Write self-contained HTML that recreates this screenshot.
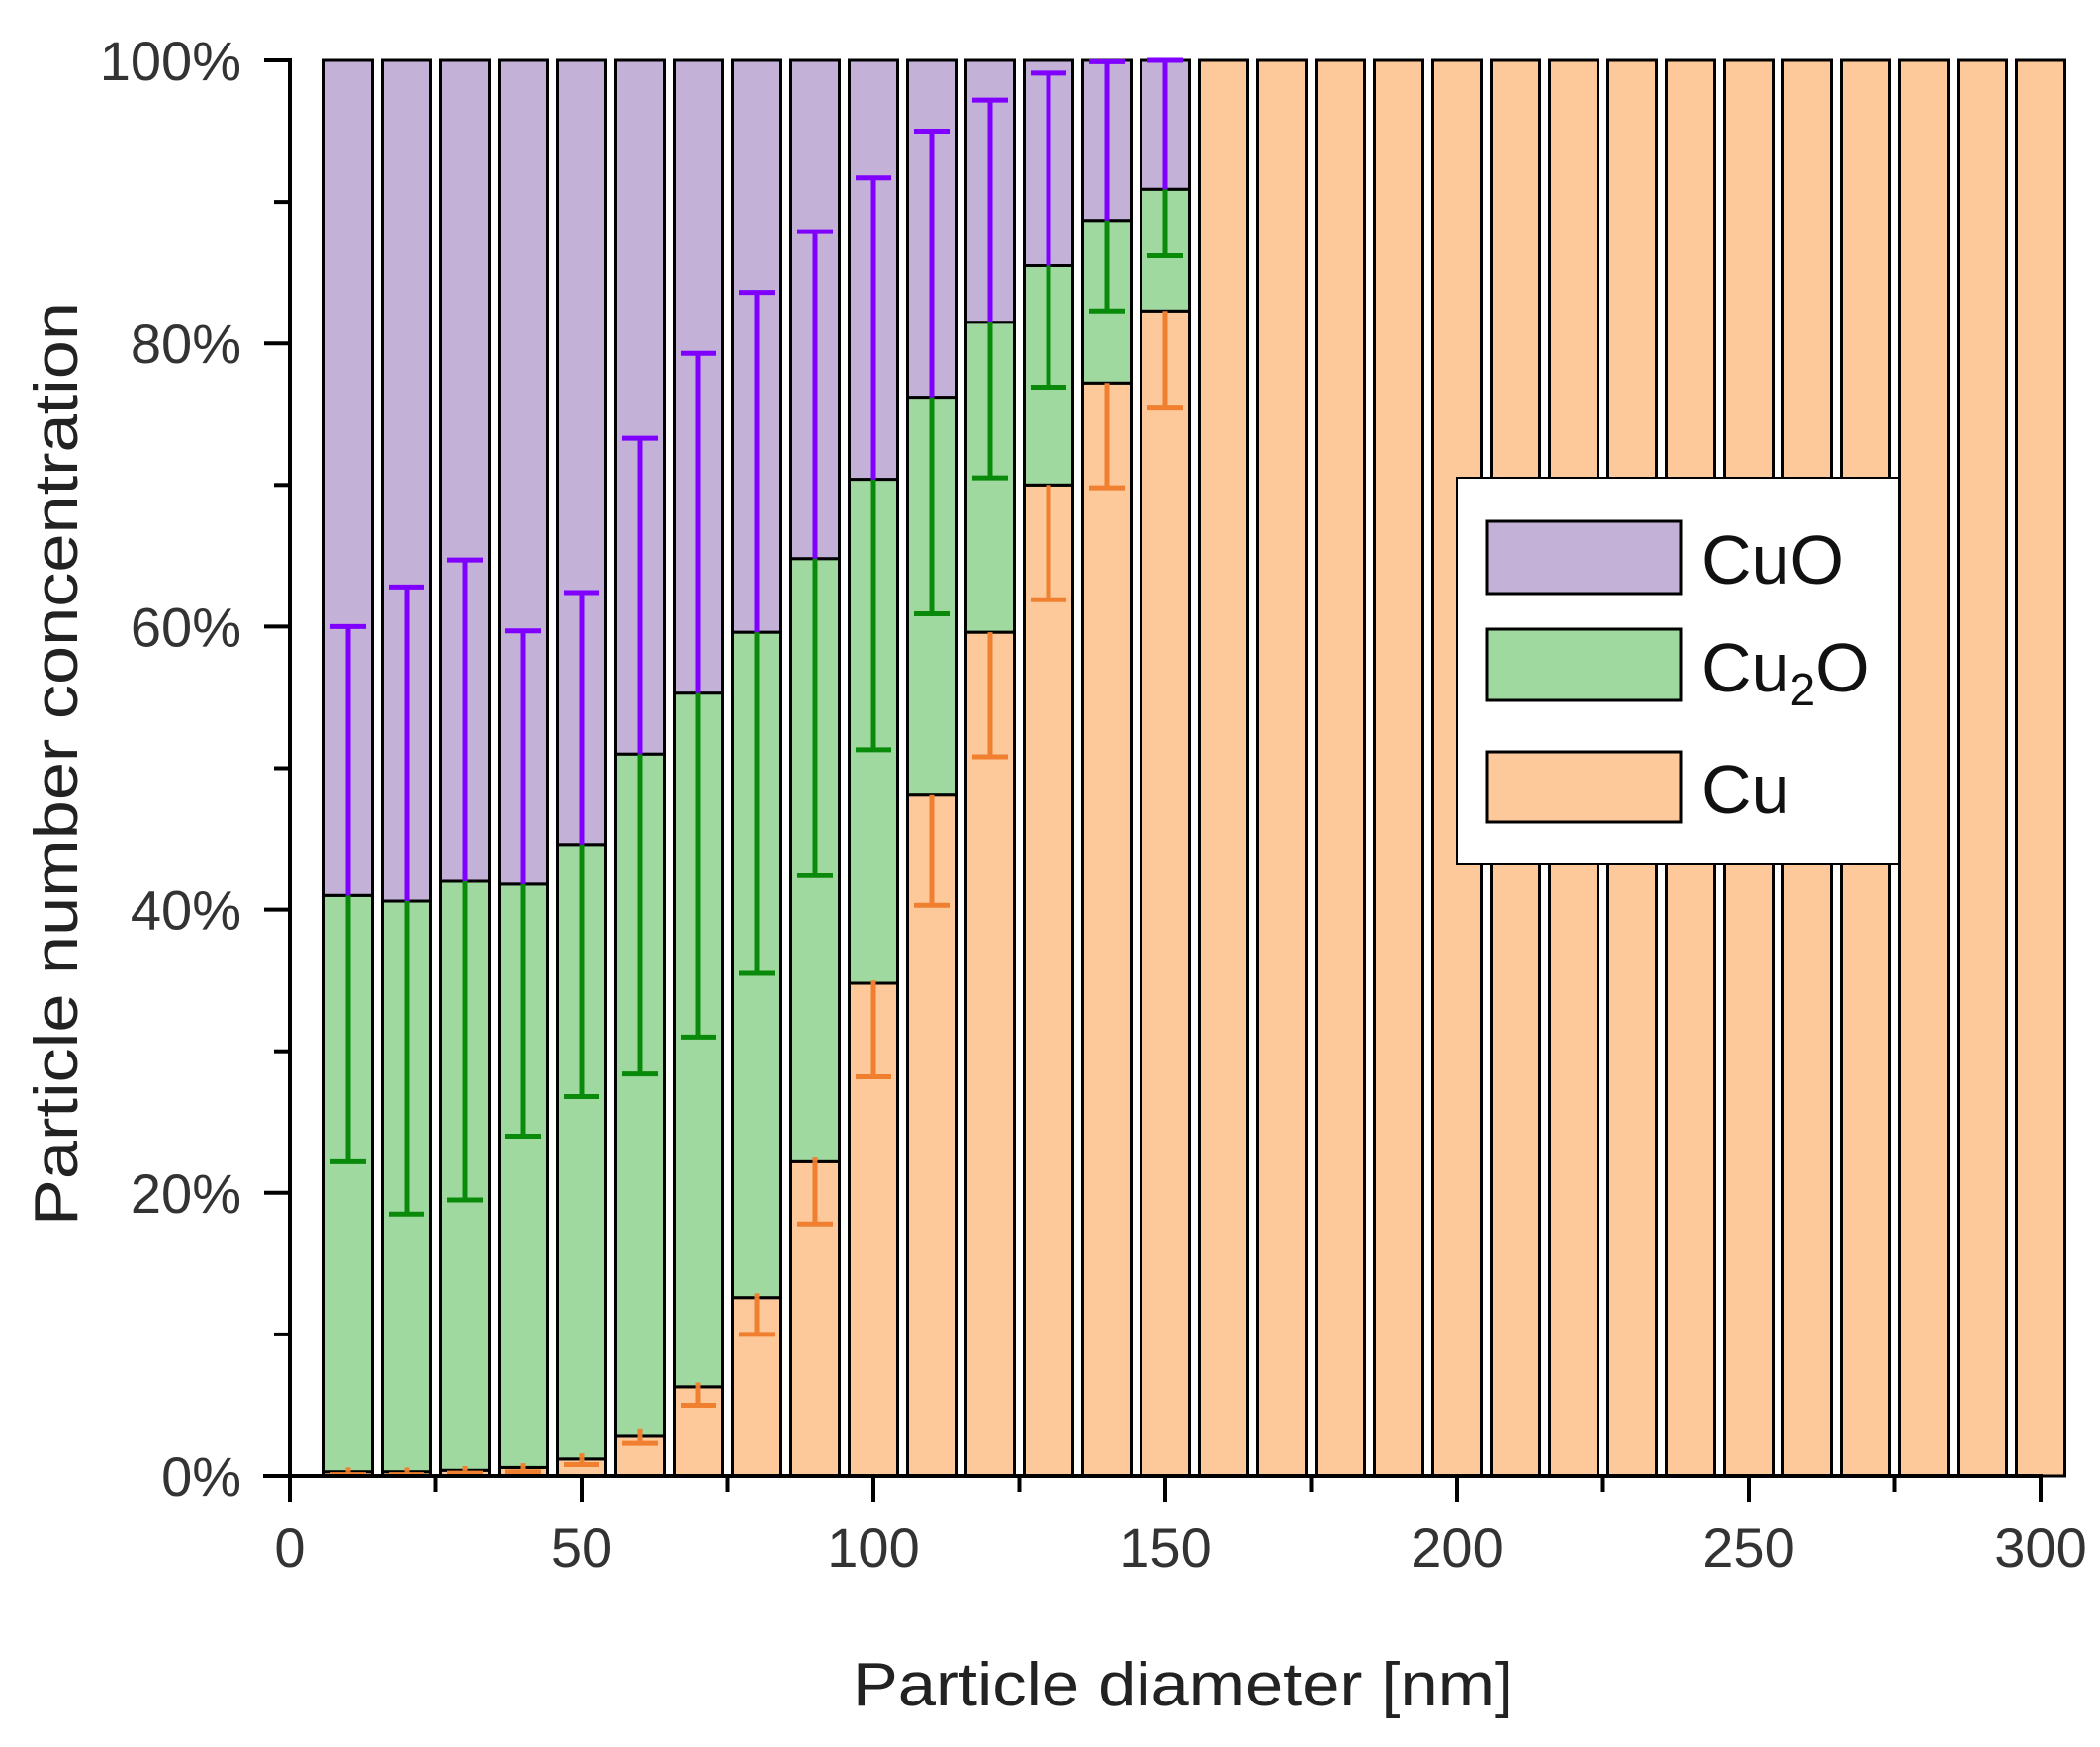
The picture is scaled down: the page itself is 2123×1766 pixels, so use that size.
<!DOCTYPE html>
<html><head><meta charset="utf-8"><style>
html,body{margin:0;padding:0;background:#fff}
svg{display:block;font-family:"Liberation Sans",sans-serif}
</style></head><body>
<svg id="chart" width="2123" height="1766" viewBox="0 0 2123 1766" xmlns="http://www.w3.org/2000/svg">
<g id="bars"></g>
<g id="errs"></g>
<g id="axes"></g>
<text x="0" y="0" transform="translate(78,772) rotate(-90)" text-anchor="middle" font-size="62" fill="#222" textLength="934" lengthAdjust="spacingAndGlyphs">Particle number concentration</text>
<text x="1196" y="1724" text-anchor="middle" font-size="62" fill="#222" textLength="668" lengthAdjust="spacingAndGlyphs">Particle diameter [nm]</text>
<g>
<rect x="1473" y="483" width="447" height="390" fill="#fff" stroke="#000" stroke-width="2"/>
<rect x="1503" y="527" width="196" height="73" fill="#c3b1d8" stroke="#000" stroke-width="3"/>
<text x="1720" y="590" font-size="70" fill="#111">CuO</text>
<rect x="1503" y="636" width="196" height="72" fill="#a0d9a0" stroke="#000" stroke-width="3"/>
<text x="1720" y="699" font-size="70" fill="#111">Cu<tspan font-size="46" dy="14">2</tspan><tspan dy="-14">O</tspan></text>
<rect x="1503" y="760" width="196" height="71" fill="#fdc99a" stroke="#000" stroke-width="3"/>
<text x="1720" y="822" font-size="70" fill="#111">Cu</text>
</g>
</svg>
<script>
const diameters=[10,20,30,40,50,60,70,80,90,100,110,120,130,140,150,160,170,180,190,200,210,220,230,240,250,260,270,280,290,300];
const cuTop=[0.3,0.3,0.4,0.6,1.2,2.8,6.3,12.6,22.2,34.8,48.1,59.6,70.0,77.2,82.3,100,100,100,100,100,100,100,100,100,100,100,100,100,100,100];
const cu2oTop=[41,40.6,42,41.8,44.6,51,55.3,59.6,64.8,70.4,76.2,81.5,85.5,88.7,90.9,100,100,100,100,100,100,100,100,100,100,100,100,100,100,100];
const cuErrLow=[0.1,0.1,0.2,0.3,0.8,2.3,5.0,10.0,17.8,28.2,40.3,50.8,61.9,69.8,75.5];
const cuErrHigh=[0.6,0.6,0.7,0.9,1.6,3.3,6.6,12.9,22.5,35.0,48.1,59.6,70.0,77.2,82.3];
const cu2oErrLow=[22.2,18.5,19.5,24,26.8,28.4,31,35.5,42.4,51.3,60.9,70.5,76.9,82.3,86.2];
const cuoErrHigh=[60,62.8,64.7,59.7,62.4,73.3,79.3,83.6,87.9,91.7,95,97.2,99.1,99.9,100];
const xTicks=[0,50,100,150,200,250,300];
const yTicks=[0,20,40,60,80,100];

const NS="http://www.w3.org/2000/svg";
const X0=293,PXNM=5.9,Y0=1492,PXPCT=14.31;
const xs=v=>X0+v*PXNM, ys=v=>Y0-v*PXPCT;
function mk(parent,tag,a){const e=document.createElementNS(NS,tag);for(const k in a)e.setAttribute(k,a[k]);parent.appendChild(e);return e;}
const gb=document.getElementById('bars'),ge=document.getElementById('errs'),ga=document.getElementById('axes');
const BW=49;
diameters.forEach((d,i)=>{
  const x=xs(d)-BW/2;
  const segs=[[0,cuTop[i],'#fdc99a','cu'],[cuTop[i],cu2oTop[i],'#a0d9a0','cu2o'],[cu2oTop[i],100,'#c3b1d8','cuo']];
  segs.forEach(s=>{
    if(s[1]-s[0]<=0.001)return;
    const r=mk(gb,'rect',{x:x,y:ys(s[1]),width:BW,height:ys(s[0])-ys(s[1]),fill:s[2],stroke:'#000','stroke-width':3});
    
    
  });
});
function err(i,from,to,color,name){
  const cx=xs(diameters[i]);
  const g=mk(ge,'g',{stroke:color,'stroke-width':5});
  
  
  mk(g,'line',{x1:cx,x2:cx,y1:ys(from),y2:ys(to)});
  mk(g,'line',{x1:cx-18,x2:cx+18,y1:ys(to),y2:ys(to)});
}
for(let i=0;i<cuErrLow.length;i++){
  err(i,cuTop[i],cuErrLow[i],'#f08030','cu');
  if(cuErrHigh[i]>cuTop[i]){const cx=xs(diameters[i]);const l=mk(ge,'line',{x1:cx,x2:cx,y1:ys(cuTop[i]),y2:ys(cuErrHigh[i]),stroke:'#f08030','stroke-width':5});}
  err(i,cu2oTop[i],cu2oErrLow[i],'#0a8a0a','cu2o');
  err(i,cu2oTop[i],cuoErrHigh[i],'#7f00ff','cuo');
}
// axes
const ya=mk(ga,'line',{x1:X0,x2:X0,y1:ys(100)-2,y2:Y0+2,stroke:'#000','stroke-width':4});

const xa=mk(ga,'line',{x1:266,x2:xs(300)+2,y1:Y0,y2:Y0,stroke:'#000','stroke-width':4});

for(let v=0;v<=100;v+=10){
  const major=v%20===0;
  const t=mk(ga,'line',{x1:X0-(major?26:16),x2:X0,y1:ys(v),y2:ys(v),stroke:'#000','stroke-width':4});
  
}
yTicks.forEach(v=>{
  const t=mk(ga,'text',{x:244,y:ys(v)+20,'text-anchor':'end','font-size':56,fill:'#333'});
  t.textContent=v+'%';
  
});
for(let v=0;v<=300;v+=25){
  const major=v%50===0;
  const t=mk(ga,'line',{x1:xs(v),x2:xs(v),y1:Y0,y2:Y0+(major?26:16),stroke:'#000','stroke-width':4});
  
}
xTicks.forEach(v=>{
  const t=mk(ga,'text',{x:xs(v),y:1584,'text-anchor':'middle','font-size':56,fill:'#333'});
  t.textContent=v;
  
});
</script>
</body></html>
